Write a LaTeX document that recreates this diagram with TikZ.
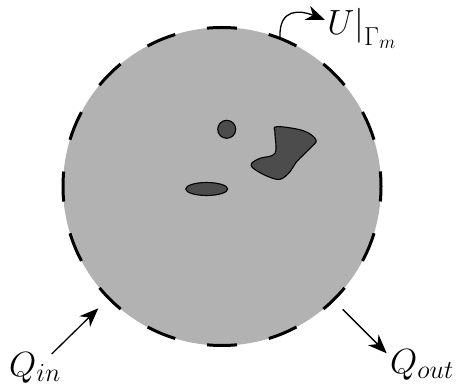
\RequirePackage{fix-cm}
\documentclass[tikz,border=0pt]{standalone}
\usetikzlibrary{arrows.meta}
\DeclareMathSizes{35}{35}{26}{19}
\begin{document}
\begin{tikzpicture}[x=1pt,y=-1pt,
  domfill/.style={fill=black!30},
  bound/.style={line width=3pt, dash pattern=on 30pt off 32.44pt, dash phase=15pt},
  incl/.style={fill=black!70, draw=black, line width=1.1pt},
  flow/.style={line width=1.3pt, -{Stealth[length=19pt,width=15pt,inset=6pt]}},
  lab/.style={font=\fontsize{35}{41}\selectfont, inner sep=0pt}]
\useasboundingbox (0,0) rectangle (460,387);
\coordinate (c) at (222,186.5);
\fill[domfill] (c) circle[radius=159];
\draw[bound] (c) circle[radius=159];
% inclusions
\draw[incl] (226.7,129.3) circle[radius=9];
\draw[incl] (206.7,189) ellipse[x radius=21, y radius=6.5];
\draw[incl] plot[smooth cycle, tension=0.6] coordinates {
  (276.7,126.7) (303.3,130.7) (316,140) (310,148.3) (296.7,161.7)
  (290,171.7) (280,179.3) (266.7,176) (253.3,168.3) (251.7,163.3)
  (260,158.3) (275,153.3) (275,133.3)};
% labels
\node[lab, anchor=base west] (qin) at (9,376) {$Q_{in}$};
\node[lab, anchor=base west] (qout) at (390,373) {$Q_{out}$};
\node[lab, anchor=base west] (u) at (326,35) {$\left.U\right|_{\Gamma_m}$};
% arrow ends
\coordinate (inS) at (51.7,354);
\coordinate (inE) at (98.3,308.3);
\coordinate (outS) at (342.7,309.3);
\coordinate (outE) at (386.7,353.3);
\coordinate (uS) at (280,37);
\coordinate (uE) at (325,20);
\draw[flow] (inS) -- (inE);
\draw[flow] (outS) -- (outE);
\draw[flow] (uS) .. controls (279,8) and (300,10) .. (uE);
\end{tikzpicture}
\end{document}
